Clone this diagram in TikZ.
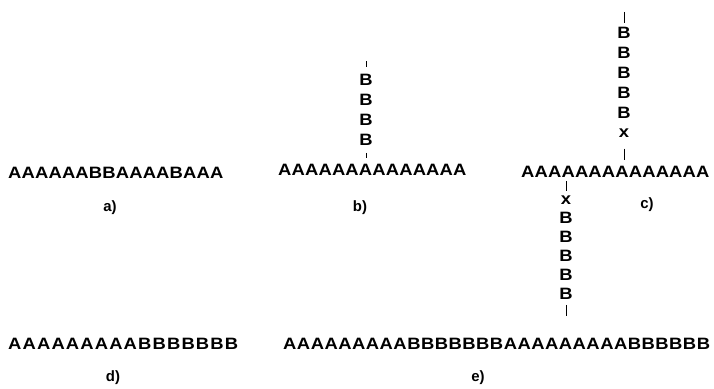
\documentclass[tikz,border=0pt]{standalone}
\usepackage{fontspec}
\setmainfont{Liberation Sans}
\usetikzlibrary{positioning}

\begin{document}
\begin{tikzpicture}[
  x=1bp, y=1bp,
  seq/.style={inner sep=0pt, anchor=base west,
              font=\fontsize{16.5}{16.5}\selectfont\bfseries\addfontfeature{FakeStretch=1.12,LetterSpace=#1}},
  mono/.style={inner sep=0pt, font=\fontsize{16.5}{16.5}\selectfont\bfseries\addfontfeature{FakeStretch=1.12}},
  tag/.style={inner sep=0pt, font=\fontsize{15}{15}\selectfont\bfseries},
  bond/.style={line width=0.9pt}
]
  \useasboundingbox (0,0) rectangle (714,388);

  % a) random copolymer
  \node[seq=1] (rowa) at (8,210) {AAAAAABBAAAABAAA};
  \node[tag] (laba) at (110,180) {a)};

  % b) graft with one side chain
  \node[seq=1] (rowb) at (278,213) {AAAAAAAAAAAAAA};
  \node[mono] (b1) at (366,308) {B};
  \node[mono] (b2) at (366,288) {B};
  \node[mono] (b3) at (366,268) {B};
  \node[mono] (b4) at (366,248) {B};
  \coordinate (btop) at (366,327);
  \draw[bond, shorten >=7bp] (btop) -- (b1);
  \draw[bond, shorten <=7bp, shorten >=5.5bp] (b4) -- (b4 |- rowb.north);
  \node[tag] (labb) at (360,180) {b)};

  % c) two side chains with junction x
  \node[seq=1] (rowc) at (521,211) {AAAAAAAAAAAAAA};
  \coordinate (ctop) at (624,376);
  \node[mono] (cu1) at (624,355) {B};
  \node[mono] (cu2) at (624,335) {B};
  \node[mono] (cu3) at (624,315) {B};
  \node[mono] (cu4) at (624,295) {B};
  \node[mono] (cu5) at (624,275) {B};
  \node[mono] (cux) at (624,255) {x};
  \draw[bond, shorten >=4bp] (ctop) -- (cu1);
  \draw[bond, shorten <=11bp, shorten >=5.5bp] (cux) -- (cux |- rowc.north);
  \node[mono] (clx) at (566,188) {x};
  \node[mono] (cl1) at (566,170) {B};
  \node[mono] (cl2) at (566,151) {B};
  \node[mono] (cl3) at (566,132) {B};
  \node[mono] (cl4) at (566,113) {B};
  \node[mono] (cl5) at (566,94) {B};
  \coordinate (cbot) at (566,72);
  \draw[bond, shorten <=4bp, shorten >=4bp] (clx |- rowc.base) -- (clx);
  \draw[bond, shorten <=5bp] (cl5) -- (cbot);
  \node[tag] (labc) at (647,183) {c)};

  % d) diblock, e) multiblock
  \node[seq=7] (rowd) at (8,39) {AAAAAAAAABBBBBBB};
  \node[tag] (labd) at (113,10) {d)};
  \node[seq=3] (rowe) at (283,39) {AAAAAAAAABBBBBBBAAAAAAAAABBBBBB};
  \node[tag] (labe) at (478,10) {e)};
\end{tikzpicture}
\end{document}
